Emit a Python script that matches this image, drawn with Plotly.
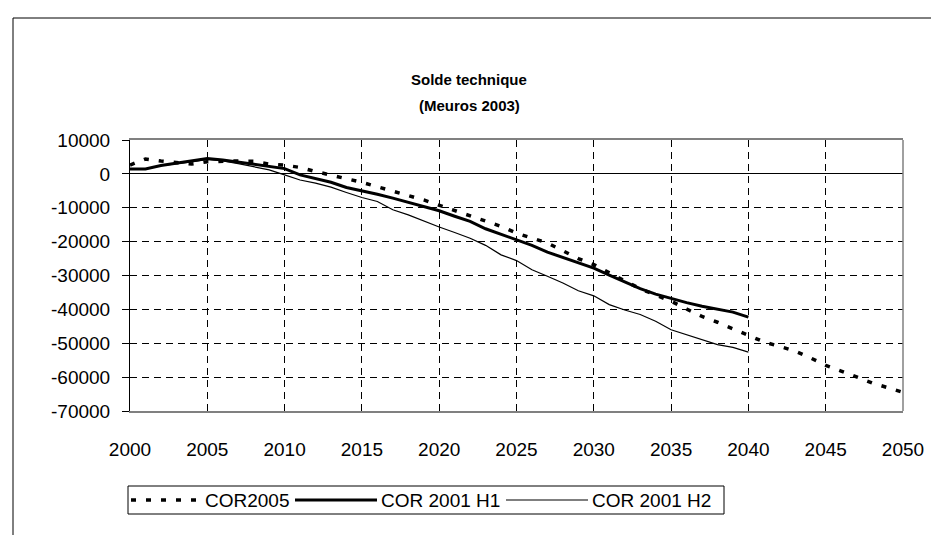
import plotly.graph_objects as go

years_2005 = list(range(2000, 2051))
cor2005 = [2600, 4400, 3800, 3400, 2900, 3600, 3800, 3800, 3700, 2900,
           2600, 1900, 700, -300, -1500, -2500, -3800, -5200, -6400, -7700,
           -9300, -10900, -12300, -13900, -15500, -17500, -19000, -20400, -22700, -25000,
           -26800, -29300, -31600, -33900, -35800, -37600, -39900, -42100, -43800, -45800,
           -47600, -49600, -50900, -52300, -54300, -56500, -58200, -59900, -61700, -63100,
           -64500]

years_2001 = list(range(2000, 2041))
cor2001_h1 = [1460, 1460, 2450, 3140, 3620, 4500, 4120, 3530, 2940, 2350,
              1560, -300, -1470, -2460, -4030, -4920, -6000, -7170, -8350, -9630,
              -10900, -12500, -14000, -16200, -17800, -19600, -21100, -23100, -24700, -26300,
              -27800, -29900, -31800, -33900, -35500, -36800, -38000, -39100, -39900, -40800,
              -42300]
cor2001_h2 = [1460, 1460, 2450, 3000, 3500, 4300, 3800, 3000, 2100, 1200,
              -300, -1800, -2750, -3930, -5500, -6970, -8150, -10600, -12100, -14000,
              -15700, -17300, -19000, -21100, -23900, -25600, -28300, -30200, -32200, -34500,
              -36000, -38600, -40200, -41500, -43500, -46000, -47400, -48900, -50400, -51200,
              -52600]

series_names = ["COR2005", "COR 2001 H1", "COR 2001 H2"]
x_ticks = list(range(2000, 2051, 5))
y_ticks = list(range(-70000, 10001, 10000))

FONT = "Liberation Sans, Arial, sans-serif"
TICK_SIZE = 19

styles = [dict(color="black", width=3.5, dash="5px,10px"),
          dict(color="black", width=3),
          dict(color="black", width=1.2)]

fig = go.Figure()
for xs, ys, nm, st in [(years_2005, cor2005, series_names[0], styles[0]),
                       (years_2001, cor2001_h1, series_names[1], styles[1]),
                       (years_2001, cor2001_h2, series_names[2], styles[2])]:
    fig.add_trace(go.Scatter(x=xs, y=ys, mode="lines", name=nm, line=st, showlegend=False))

W, H = 939, 535
L, R, T, B = 122, 895, 132, 403
pw, ph = R - L, B - T

def px(xp):
    return (xp - L) / pw

def py(yp):
    return (B - yp) / ph

shapes = [
    dict(type="line", xref="paper", yref="paper", x0=px(5), x1=px(5), y0=py(10), y1=py(540),
         line=dict(color="black", width=1)),
    dict(type="line", xref="paper", yref="paper", x0=px(5), x1=px(937), y0=py(10), y1=py(10),
         line=dict(color="black", width=1)),
    dict(type="line", xref="paper", yref="paper", x0=1, x1=1, y0=0, y1=1,
         line=dict(color="#808080", width=1.5)),
]

# custom legend (box, line samples, labels)
LEG_X0, LEG_X1, LEG_Y0, LEG_Y1 = 120, 716, 478, 506
leg_cy = (LEG_Y0 + LEG_Y1) / 2
shapes.append(dict(type="rect", xref="paper", yref="paper",
                   x0=px(LEG_X0), x1=px(LEG_X1), y0=py(LEG_Y1), y1=py(LEG_Y0),
                   line=dict(color="black", width=1), fillcolor="white"))
samples = [(123, 193), (287, 369), (498, 580)]
text_x = [195, 371, 582]
annotations = []
for (s0, s1), tx, nm, st in zip(samples, text_x, series_names, styles):
    shapes.append(dict(type="line", xref="paper", yref="paper", x0=px(s0), x1=px(s1),
                       y0=py(leg_cy), y1=py(leg_cy), line=st))
    annotations.append(dict(text=nm, xref="paper", yref="paper", x=px(tx), y=py(leg_cy),
                            xanchor="left", yanchor="middle", showarrow=False,
                            font=dict(family=FONT, size=TICK_SIZE)))

annotations += [
    dict(text="<b>Solde technique</b>", xref="paper", yref="paper", x=px(461), y=py(72),
         xanchor="center", yanchor="middle", showarrow=False, font=dict(family=FONT, size=15)),
    dict(text="<b>(Meuros 2003)</b>", xref="paper", yref="paper", x=px(461), y=py(97),
         xanchor="center", yanchor="middle", showarrow=False, font=dict(family=FONT, size=15)),
]

fig.update_layout(
    width=W, height=H,
    margin=dict(l=L, r=W - R, t=T, b=H - B, pad=0),
    paper_bgcolor="white", plot_bgcolor="white",
    font=dict(family=FONT, size=TICK_SIZE, color="black"),
    showlegend=False,
    shapes=shapes,
    annotations=annotations,
)

fig.update_xaxes(range=[2000, 2050], tickvals=x_ticks, ticktext=[str(v) for v in x_ticks],
                 showgrid=True, gridcolor="black", gridwidth=1, griddash="7px,5px",
                 showline=True, linecolor="#808080", linewidth=1.5, mirror=True,
                 ticks="", ticklabelstandoff=20, zeroline=False,
                 tickfont=dict(family=FONT, size=TICK_SIZE))
fig.update_yaxes(range=[-70000, 10000], tickvals=y_ticks, ticktext=[str(v) for v in y_ticks],
                 showgrid=True, gridcolor="black", gridwidth=1, griddash="7px,5px",
                 showline=True, linecolor="black", linewidth=1,
                 ticks="outside", ticklen=7, tickcolor="black", ticklabelstandoff=8,
                 zeroline=True, zerolinecolor="black", zerolinewidth=1,
                 tickfont=dict(family=FONT, size=TICK_SIZE))

fig.write_html("out.html")
